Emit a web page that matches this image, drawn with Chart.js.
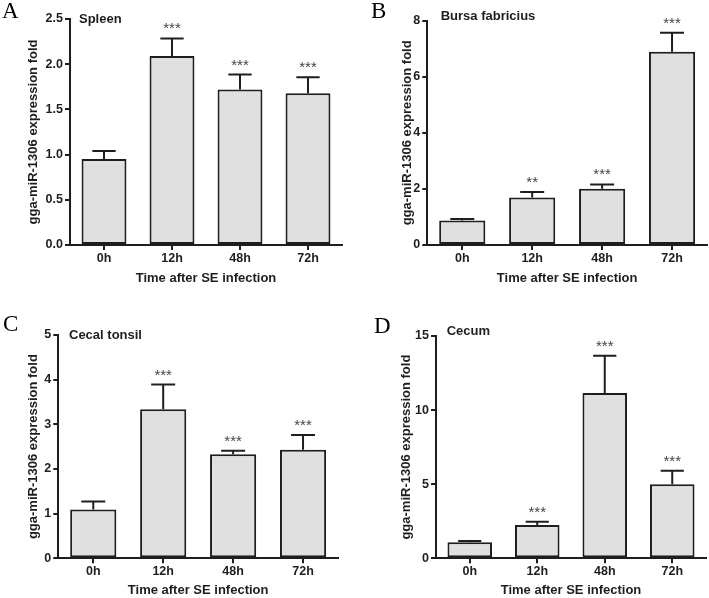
<!DOCTYPE html>
<html>
<head>
<meta charset="utf-8">
<script src="https://cdn.jsdelivr.net/npm/chart.js@4.4.0/dist/chart.umd.min.js"></script>
<style>
  body { margin: 0; background: #fff; width: 709px; height: 598px; position: relative; overflow: hidden; }
  canvas { position: absolute; }
</style>
</head>
<body>
<canvas id="chartA" width="354" height="295" style="left:0;top:0"></canvas>
<canvas id="chartB" width="355" height="295" style="left:354px;top:0"></canvas>
<canvas id="chartC" width="354" height="303" style="left:0;top:295px"></canvas>
<canvas id="chartD" width="355" height="303" style="left:354px;top:295px"></canvas>
<script>
// Data
const categories = ['0h', '12h', '48h', '72h'];

const spleenMeans = [0.95, 2.09, 1.72, 1.68];
const spleenErrors = [0.09, 0.195, 0.165, 0.175];
const spleenStars = ['', '***', '***', '***'];
const spleenTicks = [0, 0.5, 1.0, 1.5, 2.0, 2.5];

const bursaMeans = [0.87, 1.69, 2.01, 6.89];
const bursaErrors = [0.06, 0.2, 0.15, 0.68];
const bursaStars = ['', '**', '***', '***'];
const bursaTicks = [0, 2, 4, 6, 8];

const tonsilMeans = [1.09, 3.34, 2.33, 2.43];
const tonsilErrors = [0.18, 0.55, 0.08, 0.33];
const tonsilStars = ['', '***', '***', '***'];
const tonsilTicks = [0, 1, 2, 3, 4, 5];

const cecumMeans = [1.08, 2.25, 11.15, 4.99];
const cecumErrors = [0.09, 0.22, 2.52, 0.92];
const cecumStars = ['', '***', '***', '***'];
const cecumTicks = [0, 5, 10, 15];

const INK = '#1e1e1e';
const FONT = '"Liberation Sans", Arial, sans-serif';

// error bars, significance stars, panel title and letter
const decorPlugin = {
  id: 'decor',
  afterDatasetsDraw(chart, args, opts) {
    const ctx = chart.ctx;
    const yScale = chart.scales.y;
    const meta = chart.getDatasetMeta(0);
    ctx.save();
    ctx.strokeStyle = INK;
    ctx.lineWidth = 2;
    meta.data.forEach((bar, i) => {
      const top = yScale.getPixelForValue(opts.means[i] + opts.errors[i]);
      const half = bar.width * 0.26;
      ctx.beginPath();
      ctx.moveTo(bar.x, bar.y);
      ctx.lineTo(bar.x, top);
      ctx.moveTo(bar.x - half, top);
      ctx.lineTo(bar.x + half, top);
      ctx.stroke();
      if (opts.stars[i]) {
        ctx.fillStyle = '#444';
        ctx.font = '15px ' + FONT;
        ctx.textAlign = 'center';
        ctx.textBaseline = 'alphabetic';
        ctx.fillText(opts.stars[i], bar.x, top - 5);
      }
    });
    ctx.fillStyle = INK;
    ctx.font = 'bold 13px ' + FONT;
    ctx.textAlign = 'left';
    ctx.textBaseline = 'middle';
    ctx.fillText(opts.title, opts.titleX, opts.titleY);
    ctx.fillStyle = '#000';
    ctx.font = '23px "Liberation Serif", "Times New Roman", serif';
    ctx.textBaseline = 'alphabetic';
    ctx.fillText(opts.letter, opts.letterX, opts.letterY);
    ctx.restore();
  }
};

function makePanel(id, means, errors, stars, ticks, decimals, g) {
  const canvas = document.getElementById(id);
  const half = 7.8;
  const padLeft = g.yTitleX - half;
  const padBottom = canvas.height - (g.xTitleY + half);
  const yWidth = g.plotL - padLeft;
  const xHeight = g.xTitleY + half - g.plotB;

  return new Chart(canvas.getContext('2d'), {
    type: 'bar',
    data: {
      labels: categories,
      datasets: [{
        data: means,
        backgroundColor: '#e0e0e0',
        borderColor: INK,
        borderWidth: 2,
        borderSkipped: false,
        categoryPercentage: 1,
        barPercentage: 0.66
      }]
    },
    options: {
      responsive: false,
      animation: false,
      layout: {
        padding: { left: padLeft, top: g.plotT, right: canvas.width - g.plotR, bottom: padBottom }
      },
      plugins: {
        legend: { display: false },
        tooltip: { enabled: false },
        decor: {
          means: means, errors: errors, stars: stars,
          title: g.title, titleX: g.titleX, titleY: g.titleY,
          letter: g.letter, letterX: g.letterX, letterY: g.letterY
        }
      },
      scales: {
        x: {
          grid: { display: true, drawOnChartArea: false, offset: false, tickLength: 5, color: INK, lineWidth: 2 },
          border: { display: true, color: INK, width: 2 },
          ticks: { color: INK, padding: 1, font: { family: FONT, size: 12.5, weight: 'bold' } },
          title: { display: true, text: 'Time after SE infection', color: INK, padding: 0,
                   font: { family: FONT, size: 13, weight: 'bold' } },
          afterFit: (scale) => { scale.height = xHeight; }
        },
        y: {
          min: ticks[0],
          max: ticks[ticks.length - 1],
          afterBuildTicks: (scale) => { scale.ticks = ticks.map(v => ({ value: v })); },
          grid: { display: true, drawOnChartArea: false, tickLength: 5, color: INK, lineWidth: 2 },
          border: { display: true, color: INK, width: 2 },
          ticks: { color: INK, padding: 2, font: { family: FONT, size: 12.5, weight: 'bold' },
                   callback: (v) => Number(v).toFixed(decimals) },
          title: { display: true, text: 'gga-miR-1306 expression fold', color: INK, padding: 0,
                   font: { family: FONT, size: 13, weight: 'bold' } },
          afterFit: (scale) => { scale.width = yWidth; }
        }
      }
    },
    plugins: [decorPlugin]
  });
}

makePanel('chartA', spleenMeans, spleenErrors, spleenStars, spleenTicks, 1, {
  plotL: 70, plotR: 342, plotT: 19, plotB: 245, yTitleX: 33, xTitleY: 278,
  title: 'Spleen', titleX: 79, titleY: 19.5, letter: 'A', letterX: 2, letterY: 18
});
makePanel('chartB', bursaMeans, bursaErrors, bursaStars, bursaTicks, 0, {
  plotL: 73.3, plotR: 353, plotT: 20.7, plotB: 245, yTitleX: 53.7, xTitleY: 278.3,
  title: 'Bursa fabricius', titleX: 86.7, titleY: 16, letter: 'B', letterX: 17, letterY: 18
});
makePanel('chartC', tonsilMeans, tonsilErrors, tonsilStars, tonsilTicks, 0, {
  plotL: 58.3, plotR: 338, plotT: 40, plotB: 263.3, yTitleX: 33.3, xTitleY: 295.7,
  title: 'Cecal tonsil', titleX: 69, titleY: 40.7, letter: 'C', letterX: 3, letterY: 36
});
makePanel('chartD', cecumMeans, cecumErrors, cecumStars, cecumTicks, 0, {
  plotL: 82, plotR: 352, plotT: 41, plotB: 263.3, yTitleX: 52.7, xTitleY: 295,
  title: 'Cecum', titleX: 92.7, titleY: 36.7, letter: 'D', letterX: 20, letterY: 38
});
</script>
</body>
</html>
